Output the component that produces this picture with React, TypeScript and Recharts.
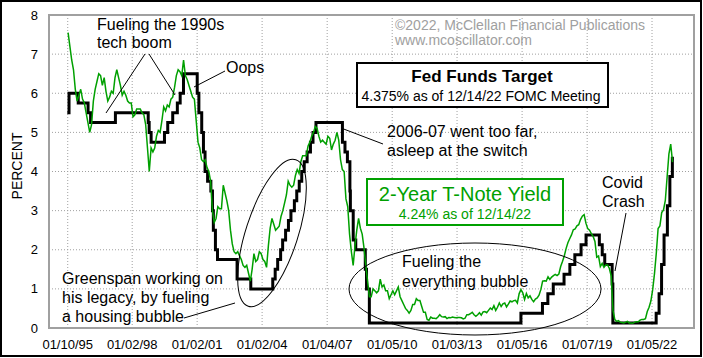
import { LineChart, Line, XAxis, YAxis, CartesianGrid } from 'recharts'

const FONT = '"Liberation Sans", Arial, sans-serif'
const GREEN = '#00a000'
const GRAY = '#a0a0a0'

// 2-year T-note yield, monthly readings, Jan 1995 .. Dec 2022
const yieldStartYear = 1995
const yields = [
  7.55, 7.2, 6.85, 6.6, 6.1, 5.8, 5.95, 6.1, 5.85, 5.75, 5.5, 5.25, // 1995
  5.0, 5.2, 5.8, 6.1, 6.3, 6.5, 6.45, 6.2, 6.4, 6.05, 5.8, 5.9, // 1996
  6.05, 6.0, 6.4, 6.6, 6.4, 6.2, 5.95, 6.05, 5.95, 5.8, 5.75, 5.75, // 1997
  5.4, 5.45, 5.6, 5.6, 5.6, 5.5, 5.45, 5.2, 4.6, 4.0, 4.6, 4.5, // 1998
  4.6, 4.9, 5.05, 5.0, 5.3, 5.65, 5.55, 5.7, 5.65, 5.85, 5.9, 6.15, // 1999
  6.45, 6.6, 6.55, 6.45, 6.85, 6.45, 6.35, 6.2, 6.05, 5.9, 5.85, 5.3, // 2000
  4.75, 4.6, 4.3, 4.25, 4.3, 4.1, 4.0, 3.75, 3.0, 2.7, 2.8, 3.1, // 2001
  3.05, 3.05, 3.65, 3.45, 3.25, 3.0, 2.5, 2.15, 1.95, 1.9, 1.95, 1.85, // 2002
  1.75, 1.6, 1.55, 1.6, 1.4, 1.2, 1.5, 1.9, 1.7, 1.75, 1.95, 1.9, // 2003
  1.75, 1.7, 1.55, 2.1, 2.55, 2.8, 2.65, 2.5, 2.55, 2.6, 2.85, 3.0, // 2004
  3.2, 3.4, 3.75, 3.65, 3.6, 3.65, 3.9, 4.05, 3.95, 4.25, 4.4, 4.4, // 2005
  4.4, 4.65, 4.75, 4.9, 5.0, 5.15, 5.1, 4.9, 4.75, 4.8, 4.75, 4.7, // 2006
  4.9, 4.85, 4.55, 4.7, 4.8, 5.0, 4.8, 4.3, 4.05, 4.0, 3.3, 3.1, // 2007
  2.4, 1.95, 1.6, 2.1, 2.5, 2.8, 2.55, 2.4, 2.05, 1.6, 1.2, 0.8, // 2008
  0.8, 1.0, 0.95, 0.9, 0.95, 1.25, 1.05, 1.1, 0.95, 0.95, 0.75, 0.85, // 2009
  0.95, 0.85, 0.95, 1.05, 0.8, 0.7, 0.6, 0.5, 0.45, 0.38, 0.45, 0.6, // 2010
  0.6, 0.75, 0.7, 0.7, 0.55, 0.4, 0.4, 0.22, 0.2, 0.28, 0.25, 0.25, // 2011
  0.24, 0.28, 0.34, 0.29, 0.28, 0.29, 0.24, 0.27, 0.26, 0.28, 0.27, 0.26, // 2012
  0.27, 0.27, 0.26, 0.23, 0.25, 0.34, 0.34, 0.37, 0.4, 0.34, 0.3, 0.34, // 2013
  0.39, 0.33, 0.41, 0.42, 0.39, 0.45, 0.51, 0.47, 0.57, 0.45, 0.53, 0.64, // 2014
  0.55, 0.62, 0.64, 0.54, 0.61, 0.69, 0.67, 0.7, 0.71, 0.64, 0.88, 0.98, // 2015
  0.9, 0.73, 0.88, 0.77, 0.82, 0.73, 0.67, 0.74, 0.77, 0.84, 0.98, 1.2, // 2016
  1.21, 1.2, 1.31, 1.24, 1.3, 1.34, 1.37, 1.34, 1.38, 1.57, 1.7, 1.84, // 2017
  2.03, 2.18, 2.28, 2.38, 2.51, 2.53, 2.61, 2.64, 2.77, 2.86, 2.9, 2.68, // 2018
  2.54, 2.5, 2.41, 2.34, 2.21, 1.81, 1.84, 1.57, 1.65, 1.55, 1.61, 1.61, // 2019
  1.52, 1.33, 0.45, 0.22, 0.17, 0.19, 0.15, 0.14, 0.13, 0.15, 0.17, 0.13, // 2020
  0.13, 0.12, 0.15, 0.16, 0.16, 0.2, 0.22, 0.22, 0.24, 0.42, 0.53, 0.69, // 2021
  0.98, 1.39, 1.91, 2.54, 2.61, 2.95, 3.02, 3.26, 3.86, 4.45, 4.7, 4.24, // 2022
]

// Fed funds target (midpoint of range after 2008)
const fedDates = [
  '1995-01-03', '1995-02-01', '1995-07-06', '1995-12-19', '1996-01-31', '1997-03-25',
  '1998-09-29', '1998-10-15', '1998-11-17', '1999-06-30', '1999-08-24', '1999-11-16',
  '2000-02-02', '2000-03-21', '2000-05-16', '2001-01-03', '2001-01-31', '2001-03-20',
  '2001-04-18', '2001-05-15', '2001-06-27', '2001-08-21', '2001-09-17', '2001-10-02',
  '2001-11-06', '2001-12-11', '2002-11-06', '2003-06-25', '2004-06-30', '2004-08-10',
  '2004-09-21', '2004-11-10', '2004-12-14', '2005-02-02', '2005-03-22', '2005-05-03',
  '2005-06-30', '2005-08-09', '2005-09-20', '2005-11-01', '2005-12-13', '2006-01-31',
  '2006-03-28', '2006-05-10', '2006-06-29', '2007-09-18', '2007-10-31', '2007-12-11',
  '2008-01-22', '2008-01-30', '2008-03-18', '2008-04-30', '2008-10-08', '2008-10-29',
  '2008-12-16', '2015-12-16', '2016-12-14', '2017-03-15', '2017-06-14', '2017-12-13',
  '2018-03-21', '2018-06-13', '2018-09-26', '2018-12-19', '2019-07-31', '2019-09-18',
  '2019-10-30', '2020-03-03', '2020-03-15', '2022-03-16', '2022-05-04', '2022-06-15',
  '2022-07-27', '2022-09-21', '2022-11-02', '2022-12-14',
]
const fedRates = [
  5.5, 6.0, 5.75, 5.5, 5.25, 5.5,
  5.25, 5.0, 4.75, 5.0, 5.25, 5.5,
  5.75, 6.0, 6.5, 6.0, 5.5, 5.0,
  4.5, 4.0, 3.75, 3.5, 3.0, 2.5,
  2.0, 1.75, 1.25, 1.0, 1.25, 1.5,
  1.75, 2.0, 2.25, 2.5, 2.75, 3.0,
  3.25, 3.5, 3.75, 4.0, 4.25, 4.5,
  4.75, 5.0, 5.25, 4.75, 4.5, 4.25,
  3.5, 3.0, 2.25, 2.0, 1.5, 1.0,
  0.125, 0.375, 0.625, 0.875, 1.125, 1.375,
  1.625, 1.875, 2.125, 2.375, 2.125, 1.875,
  1.625, 1.125, 0.125, 0.375, 0.875, 1.625,
  2.375, 3.125, 3.875, 4.375,
]

const tickDates = [
  '1995-01-10', '1998-01-02', '2001-01-02', '2004-01-02', '2007-01-04',
  '2010-01-05', '2013-01-03', '2016-01-05', '2019-01-07', '2022-01-05',
]
const tickLabels = [
  '01/10/95', '01/02/98', '01/02/01', '01/02/04', '01/04/07',
  '01/05/10', '01/03/13', '01/05/16', '01/07/19', '01/05/22',
]
const yTicks = [0, 1, 2, 3, 4, 5, 6, 7, 8]

function toYear(s: string) {
  const d = Date.parse(s + 'T00:00:00Z')
  const y = Number(s.slice(0, 4))
  const start = Date.UTC(y, 0, 1)
  const end = Date.UTC(y + 1, 0, 1)
  return y + (d - start) / (end - start)
}

const fedData = fedDates.map((d, i) => ({ x: toYear(d), v: fedRates[i] }))
const yieldData = yields.map((v, i) => ({ x: yieldStartYear + (i + 0.5) / 12, v }))
const tickYears = tickDates.map(toYear)

const txt = { fontFamily: FONT, fontSize: 16, fill: '#000' }

export default function App() {
  return (
    <div style={{ position: 'absolute', left: 0, top: 0, width: 703, height: 358, background: '#fff' }}>
      <LineChart width={703} height={358} margin={{ top: 15, right: 9, bottom: 0, left: 0 }}>
        <CartesianGrid stroke={GRAY} strokeDasharray="1 2" />
        <XAxis
          type="number"
          dataKey="x"
          domain={[1994.16, 2023.95]}
          allowDataOverflow
          ticks={tickYears}
          interval={0}
          tickFormatter={(v: number) => tickLabels[tickYears.indexOf(v)] ?? ''}
          height={30}
          axisLine={false}
          tickLine={false}
          tickSize={0}
          tickMargin={12}
          tick={{ fill: '#000', fontSize: 13, fontFamily: FONT }}
        />
        <YAxis
          type="number"
          domain={[0, 8]}
          ticks={yTicks}
          interval={0}
          width={49}
          axisLine={false}
          tickLine={false}
          tickSize={0}
          tickMargin={11}
          tick={{ fill: '#000', fontSize: 13, fontFamily: FONT }}
        />
        <Line data={fedData} dataKey="v" type="stepAfter" stroke="#000" strokeWidth={3}
          dot={false} isAnimationActive={false} strokeLinejoin="miter" />
        <Line data={yieldData} dataKey="v" type="linear" stroke={GREEN} strokeWidth={1.5}
          dot={false} isAnimationActive={false} />
      </LineChart>
      <svg width={703} height={358} style={{ position: 'absolute', left: 0, top: 0 }}>
        <rect x={1} y={1} width={700} height={355} fill="none" stroke="#000" strokeWidth={2} />
        <rect x={49} y={15} width={645} height={313} fill="none" stroke={GRAY} strokeWidth={2} />
        <text transform="translate(22,166) rotate(-90)" textAnchor="middle"
          style={{ ...txt, fontSize: 14 }}>PERCENT</text>

        {/* copyright */}
        <text x={395} y={30} style={{ ...txt, fontSize: 14, fill: GRAY }}>©2022, McClellan Financial Publications</text>
        <text x={395} y={45} style={{ ...txt, fontSize: 14, fill: GRAY }}>www.mcoscillator.com</text>

        {/* 1990s */}
        <text x={97} y={30} style={txt}>Fueling the 1990s</text>
        <text x={97} y={48} style={txt}>tech boom</text>
        <line x1={145} y1={54} x2={106} y2={113} stroke="#000" strokeWidth={1} />
        <line x1={149} y1={54} x2={175} y2={95} stroke="#000" strokeWidth={1} />

        {/* Oops */}
        <text x={226} y={73} style={txt}>Oops</text>
        <line x1={194} y1={87} x2={225} y2={71} stroke="#000" strokeWidth={1} />

        {/* Fed Funds box */}
        <rect x={357} y={63} width={251} height={44} fill="#fff" stroke="#000" strokeWidth={2} />
        <text x={482} y={82} textAnchor="middle" style={{ ...txt, fontSize: 17, fontWeight: 'bold' }}>Fed Funds Target</text>
        <text x={481} y={101} textAnchor="middle" style={{ ...txt, fontSize: 14 }}>4.375% as of 12/14/22 FOMC Meeting</text>

        {/* 2006-07 */}
        <text x={387} y={137} style={txt}>2006-07 went too far,</text>
        <text x={387} y={156} style={txt}>asleep at the switch</text>
        <line x1={341} y1={128} x2={383} y2={144} stroke="#000" strokeWidth={1} />

        {/* 2-Year box */}
        <rect x={367} y={179} width={196} height={46} fill="#fff" stroke={GREEN} strokeWidth={2} />
        <text x={465} y={201} textAnchor="middle" style={{ ...txt, fontSize: 20, fill: GREEN }}>2-Year T-Note Yield</text>
        <text x={465} y={219} textAnchor="middle" style={{ ...txt, fontSize: 14, fill: GREEN }}>4.24% as of 12/14/22</text>

        {/* Covid */}
        <text x={602} y={188} style={txt}>Covid</text>
        <text x={602} y={207} style={txt}>Crash</text>
        <line x1={626} y1={213} x2={615} y2={271} stroke="#000" strokeWidth={1} />

        {/* everything bubble */}
        <ellipse cx={475} cy={289} rx={126} ry={46} fill="none" stroke="#000" strokeWidth={1} />
        <text x={402} y={267} style={txt}>Fueling the</text>
        <text x={402} y={287} style={txt}>everything bubble</text>

        {/* Greenspan */}
        <ellipse cx={272} cy={233} rx={77} ry={26} fill="none" stroke="#000" strokeWidth={1}
          transform="rotate(-72 272 233)" />
        <text x={62} y={284} style={txt}>Greenspan working on</text>
        <text x={62} y={303} style={txt}>his legacy, by fueling</text>
        <text x={62} y={322} style={txt}>a housing bubble</text>
        <line x1={184} y1={318} x2={235} y2={303} stroke="#000" strokeWidth={1} />
      </svg>
    </div>
  )
}
